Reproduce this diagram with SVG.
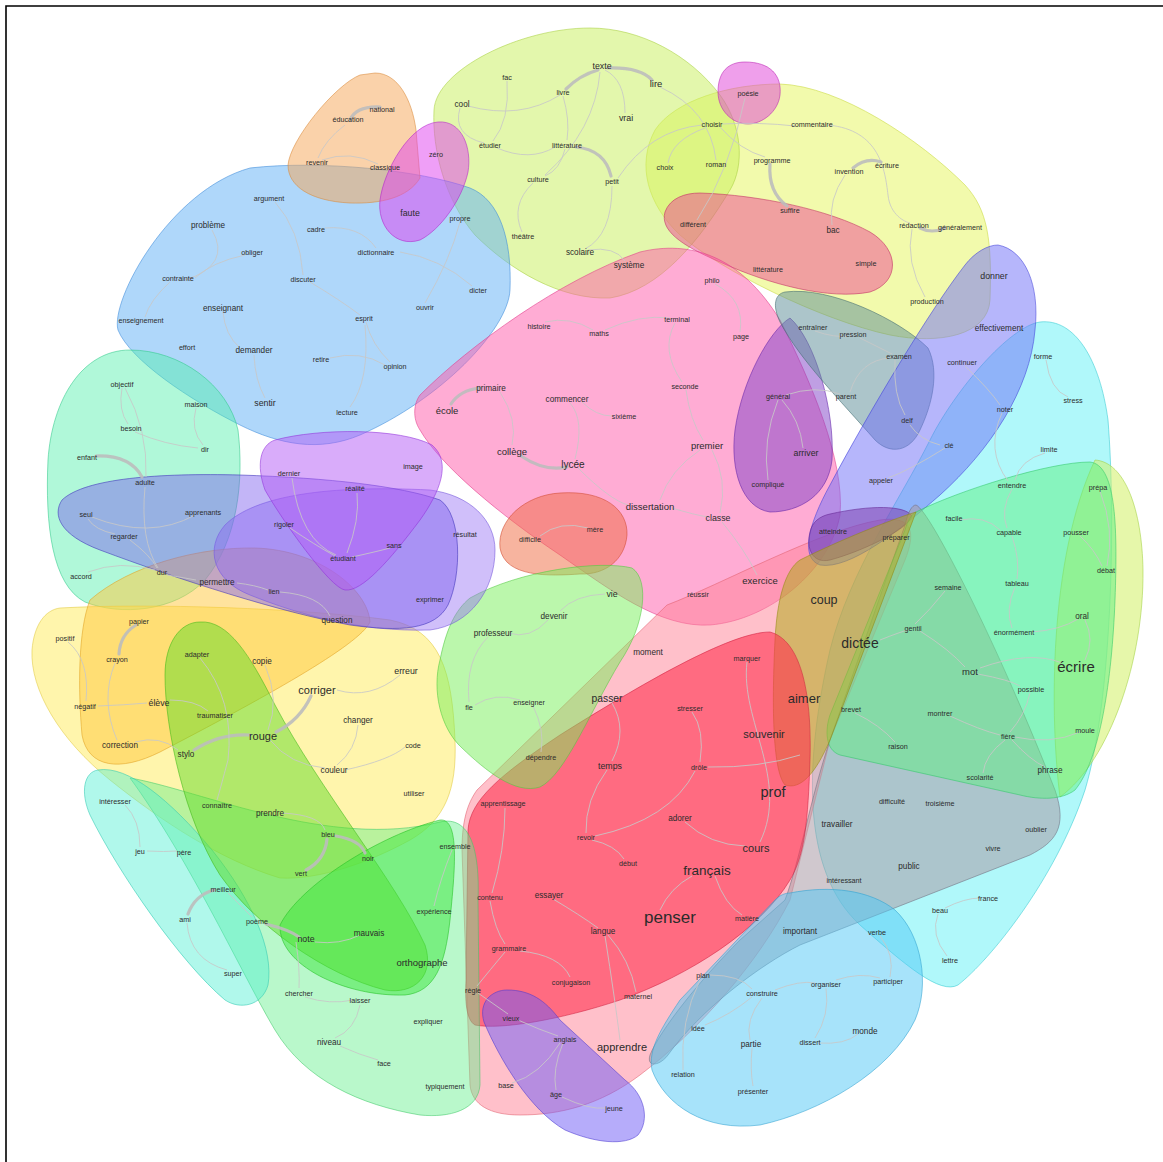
<svg xmlns="http://www.w3.org/2000/svg" width="1163" height="1162" viewBox="0 0 1163 1162">
<style>
text{font-family:"Liberation Sans",Arial,sans-serif;fill:#2b2b2b;text-anchor:middle;dominant-baseline:central}
.s{font-size:7.2px}.m{font-size:8.2px}.n{font-size:8.8px}.l{font-size:9.5px}
.hull{stroke-width:1;stroke-opacity:.55}
.e{fill:none;stroke:#c8c8c8;stroke-width:1;stroke-opacity:.85}
.E{fill:none;stroke:#bdbdbd;stroke-width:3.2;stroke-linecap:round;stroke-opacity:.9}
</style>
<rect x="0" y="0" width="1163" height="1162" fill="#ffffff"/>
<path d="M6,1162 V6 H1163" fill="none" stroke="#000" stroke-width="1.6"/>
<g id="hulls">
<path id="h-cyan" class="hull" fill="#50f0f5" fill-opacity=".45" stroke="#30c8d0" d="M1040,322 C1075,318 1100,360 1108,420 C1116,520 1112,700 1085,790 C1055,880 990,960 958,985 C940,995 905,965 860,925 C800,870 805,760 830,650 C850,570 900,500 930,440 C955,390 1010,326 1040,322 Z"/>
<path id="h-limeR" class="hull" fill="#d2f064" fill-opacity=".55" stroke="#a0d040" d="M1095,460 C1125,462 1142,510 1143,570 C1144,660 1110,760 1060,797 C1050,720 1048,560 1095,460 Z"/>
<path id="h-yellowR" class="hull" fill="#e6f55a" fill-opacity=".5" stroke="#c8d840" d="M780,84 C840,86 920,140 965,185 C988,210 992,240 990,300 C988,335 940,345 890,335 C820,320 720,270 680,235 C648,205 636,165 655,130 C675,100 730,84 780,84 Z"/>
<path id="h-lime" class="hull" fill="#c8f05a" fill-opacity=".5" stroke="#a8d040" d="M590,28 C640,28 690,55 720,95 C742,125 745,165 730,190 C700,240 660,290 610,298 C560,300 510,270 475,235 C445,200 432,150 434,110 C436,70 520,28 590,28 Z"/>
<path id="h-blue" class="hull" fill="#60b0f5" fill-opacity=".5" stroke="#3a88d8" d="M250,168 C320,160 420,170 470,188 C500,200 512,240 510,290 C508,330 440,400 360,435 C320,452 280,445 240,425 C190,400 130,360 118,330 C110,300 170,190 250,168 Z"/>
<path id="h-orange" class="hull" fill="#f5a555" fill-opacity=".5" stroke="#d88838" d="M375,73 C398,73 412,100 416,130 L420,178 C408,198 380,204 350,203 C310,201 288,186 288,165 C290,140 335,85 360,75 Z"/>
<path id="h-zero" class="hull" fill="#e040f0" fill-opacity=".5" stroke="#b020c8" d="M438,122 C462,120 472,148 468,172 C462,200 440,230 420,240 C395,248 377,225 380,200 C384,170 410,124 438,122 Z"/>
<path id="h-poesie" class="hull" fill="#e040d8" fill-opacity=".5" stroke="#b820b0" d="M745,62 C770,62 782,75 780,95 C778,112 762,124 748,124 C732,124 718,110 718,92 C718,72 728,62 745,62 Z"/>
<path id="h-bac" class="hull" fill="#ee4694" fill-opacity=".5" stroke="#c02860" d="M700,193 C760,195 830,210 870,232 C900,250 900,282 870,292 C830,300 770,285 720,262 C680,245 660,230 665,212 C670,198 685,193 700,193 Z"/>
<path id="h-ecole" class="hull" fill="#ff5aaa" fill-opacity=".5" stroke="#e03888" d="M420,395 C470,345 560,280 640,252 C690,240 740,255 780,320 C810,380 845,460 840,515 C830,570 770,620 710,625 C660,628 610,590 560,555 C500,515 440,465 420,430 C412,418 414,403 420,395 Z"/>
<path id="h-apprendre" class="hull" fill="#ff8296" fill-opacity=".5" stroke="#e06070" d="M667,605 C720,585 820,530 880,520 C915,515 915,535 905,560 L830,740 C815,800 800,860 790,900 C760,960 700,1030 640,1075 C600,1105 560,1115 520,1115 C490,1115 472,1105 470,1085 L462,850 C462,815 470,800 477,790 Z"/>
<path id="h-mere" class="hull" fill="#f06a40" fill-opacity=".5" stroke="#d04830" d="M560,493 C605,490 628,510 627,535 C625,560 605,575 580,574 C550,576 505,578 500,548 C497,520 525,495 560,493 Z"/>
<path id="h-arriver" class="hull" fill="#8040c8" fill-opacity=".5" stroke="#6020a8" d="M790,318 C815,340 835,410 832,460 C828,495 800,512 770,512 C742,508 730,470 735,430 C742,380 770,330 790,318 Z"/>
<path id="h-examen" class="hull" fill="#5a8c96" fill-opacity=".5" stroke="#406a70" d="M785,292 C830,286 900,320 928,348 C940,372 932,405 920,430 C910,452 890,455 875,440 C840,400 800,360 780,322 C772,305 775,294 785,292 Z"/>
<path id="h-donner" class="hull" fill="#6e6ef8" fill-opacity=".5" stroke="#4040d8" d="M998,245 C1025,250 1040,285 1035,330 C1030,390 990,450 940,495 C900,530 850,570 820,565 C800,558 808,525 830,485 C870,410 930,310 965,265 C975,252 988,245 998,245 Z"/>
<path id="h-atteindre" class="hull" fill="#8040b0" fill-opacity=".55" stroke="#602090" d="M830,514 C870,505 905,505 912,516 C908,530 860,552 830,560 C812,564 806,548 810,532 C812,522 820,516 830,514 Z"/>
<path id="h-gray" class="hull" fill="#aa9ba5" fill-opacity=".55" stroke="#707080" d="M916,505 C930,510 1000,650 1055,790 C1068,828 1055,842 1030,855 L800,945 C760,965 700,1010 668,1055 C660,1066 646,1068 650,1055 C660,1030 700,980 740,940 L785,900 C800,860 810,800 830,740 L905,525 C908,512 912,505 916,505 Z"/>
<path id="h-ecrire" class="hull" fill="#5df082" fill-opacity=".5" stroke="#30c868" d="M916,512 C960,490 1050,462 1090,462 C1115,465 1118,520 1115,600 C1112,680 1100,760 1075,790 C1062,800 1040,800 1020,795 L840,755 C825,750 825,730 830,715 L905,530 C908,520 912,514 916,512 Z"/>
<path id="h-dictee" class="hull" fill="#b4aa1e" fill-opacity=".55" stroke="#908810" d="M800,560 C840,540 890,520 916,512 L830,740 C815,775 800,790 785,785 C772,770 772,700 775,640 C777,600 785,570 800,560 Z"/>
<path id="h-penser" class="hull" fill="#ff3250" fill-opacity=".6" stroke="#d02040" d="M770,632 C800,640 812,690 810,760 C808,820 805,855 790,880 C760,930 690,975 620,1000 C560,1020 500,1030 475,1025 C466,1020 465,1000 466,980 L468,830 C470,800 500,775 560,735 C640,685 730,632 770,632 Z"/>
<path id="h-construire" class="hull" fill="#50c8f5" fill-opacity=".5" stroke="#30a0d0" d="M790,893 C830,885 870,890 895,910 C922,935 930,985 915,1020 C890,1072 820,1112 760,1125 C705,1132 665,1105 652,1070 C648,1050 660,1030 680,1000 L775,900 C780,895 785,893 790,893 Z"/>
<path id="h-jeune" class="hull" fill="#6e5af5" fill-opacity=".5" stroke="#4a38d0" d="M507,990 C530,990 545,1000 560,1020 L625,1080 C645,1095 650,1120 638,1135 C625,1146 595,1143 565,1130 C530,1110 500,1060 484,1022 C478,1002 492,990 507,990 Z"/>
<path id="h-adulte" class="hull" fill="#50f0aa" fill-opacity=".45" stroke="#30c888" d="M130,350 C180,350 228,385 238,430 C244,480 238,540 205,580 C175,612 120,616 85,602 C52,585 45,525 48,460 C52,400 82,350 130,350 Z"/>
<path id="h-corriger" class="hull" fill="#ffeb5a" fill-opacity=".5" stroke="#e0c840" d="M60,608 C150,603 300,608 390,620 C440,630 452,670 455,740 C457,790 445,820 410,840 C370,862 320,880 280,878 C220,860 160,820 110,780 C60,740 30,690 32,650 C34,625 45,610 60,608 Z"/>
<path id="h-eleve" class="hull" fill="#ffc83c" fill-opacity=".5" stroke="#e0a020" d="M90,600 C130,565 200,547 255,548 C320,550 368,590 370,622 C360,645 260,700 160,752 C120,772 88,768 82,735 C78,690 78,630 90,600 Z"/>
<path id="h-vie" class="hull" fill="#78f05a" fill-opacity=".5" stroke="#50c840" d="M470,598 C520,570 600,560 632,568 C650,580 645,625 620,662 C590,712 565,775 540,787 C515,795 485,770 462,748 C440,728 432,690 440,660 C446,630 455,610 470,598 Z"/>
<path id="h-ensemble" class="hull" fill="#64f08c" fill-opacity=".45" stroke="#40c868" d="M130,778 C200,790 330,850 440,822 C470,815 480,850 478,900 L480,1085 C478,1110 450,1118 420,1115 C360,1105 305,1080 275,1030 C245,980 190,860 130,778 Z"/>
<path id="h-jeu" class="hull" fill="#50f0d2" fill-opacity=".45" stroke="#30c8b0" d="M98,770 C128,765 170,800 212,850 C252,900 274,950 268,985 C262,1006 240,1010 225,1000 C180,962 118,872 90,815 C80,792 84,772 98,770 Z"/>
<path id="h-rouge" class="hull" fill="#64dc28" fill-opacity=".5" stroke="#40b818" d="M200,622 C228,620 250,655 275,705 C320,790 395,880 425,945 C435,975 415,995 385,990 C325,975 255,925 220,875 C185,820 165,730 165,675 C165,643 180,622 200,622 Z"/>
<path id="h-ortho" class="hull" fill="#3ce63c" fill-opacity=".5" stroke="#20c020" d="M280,925 C300,885 380,835 440,820 C460,818 455,870 450,920 C445,965 435,992 405,995 C345,997 278,965 280,925 Z"/>
<path id="h-resultat" class="hull" fill="#9670f5" fill-opacity=".45" stroke="#7050d8" d="M225,525 C255,495 330,485 430,490 C470,495 495,520 495,550 C495,590 470,625 430,630 C360,632 300,615 250,595 C212,580 205,548 225,525 Z"/>
<path id="h-seul" class="hull" fill="#7a5aee" fill-opacity=".45" stroke="#3a30b8" d="M62,500 C85,478 160,473 240,475 C330,478 400,486 440,500 C462,515 462,575 448,605 C435,630 400,632 350,625 C280,612 180,580 100,550 C60,535 52,515 62,500 Z"/>
<path id="h-image" class="hull" fill="#b45af5" fill-opacity=".5" stroke="#9030d8" d="M275,440 C320,428 400,428 432,445 C452,462 440,492 420,520 C390,560 362,592 345,590 C330,588 282,520 265,490 C256,465 260,445 275,440 Z"/>
</g>
<g id="edges">
<path class="E" d="M350,120 Q356,106 380,107"/>
<path class="e" d="M345,125 Q325,140 318,158"/>
<path class="e" d="M322,160 Q350,150 378,164"/>
<path class="e" d="M275,202 Q300,230 303,275"/>
<path class="e" d="M325,228 Q360,225 376,248"/>
<path class="e" d="M212,230 Q232,265 185,280"/>
<path class="e" d="M245,255 Q212,262 195,278"/>
<path class="e" d="M170,282 Q150,300 145,317"/>
<path class="e" d="M223,312 Q225,335 240,348"/>
<path class="e" d="M254,355 Q255,380 265,398"/>
<path class="e" d="M310,282 Q340,300 360,315"/>
<path class="e" d="M366,322 Q372,345 390,362"/>
<path class="e" d="M330,358 Q360,350 385,365"/>
<path class="e" d="M400,252 Q440,258 472,286"/>
<path class="e" d="M425,303 Q450,260 460,222"/>
<path class="e" d="M350,407 Q370,380 365,325"/>
<path class="E" d="M598,70 Q580,75 566,89"/>
<path class="E" d="M608,68 Q640,67 652,80"/>
<path class="e" d="M605,70 Q625,80 625,113"/>
<path class="e" d="M600,72 Q595,130 545,175"/>
<path class="e" d="M560,95 Q520,120 468,106"/>
<path class="e" d="M563,96 Q570,120 567,140"/>
<path class="e" d="M507,81 Q510,120 493,141"/>
<path class="e" d="M460,108 Q452,135 484,143"/>
<path class="e" d="M497,148 Q530,162 555,147"/>
<path class="E" d="M576,147 Q605,150 611,176"/>
<path class="e" d="M565,149 Q560,170 545,176"/>
<path class="e" d="M533,183 Q510,205 522,232"/>
<path class="e" d="M612,186 Q612,235 585,249"/>
<path class="e" d="M588,250 Q615,246 625,261"/>
<path class="e" d="M618,178 Q650,130 702,125"/>
<path class="e" d="M660,87 Q710,110 716,160"/>
<path class="e" d="M705,128 Q672,140 668,163"/>
<path class="e" d="M720,127 Q740,150 765,157"/>
<path class="e" d="M722,124 Q760,122 795,126"/>
<path class="e" d="M745,98 Q730,170 697,220"/>
<path class="E" d="M770,164 Q768,192 787,206"/>
<path class="e" d="M828,125 C880,130 885,170 888,195 C890,215 905,222 910,223"/>
<path class="E" d="M920,228 Q932,234 945,228"/>
<path class="E" d="M853,168 Q866,157 881,162"/>
<path class="e" d="M845,175 Q828,200 832,225"/>
<path class="e" d="M912,229 Q905,262 925,297"/>
<path class="e" d="M545,322 Q570,316 593,330"/>
<path class="e" d="M605,330 Q640,314 670,318"/>
<path class="e" d="M675,323 Q660,350 682,382"/>
<path class="e" d="M686,390 Q690,420 703,440"/>
<path class="e" d="M740,332 Q745,300 715,284"/>
<path class="E" d="M480,388 Q460,390 451,404"/>
<path class="e" d="M500,392 Q518,420 512,445"/>
<path class="E" d="M521,456 Q545,472 567,467"/>
<path class="e" d="M575,459 Q585,420 570,403"/>
<path class="e" d="M582,402 Q596,416 612,416"/>
<path class="e" d="M700,450 Q670,470 660,500"/>
<path class="e" d="M672,508 Q695,515 708,517"/>
<path class="e" d="M712,450 Q728,480 720,513"/>
<path class="e" d="M722,522 Q745,550 757,575"/>
<path class="e" d="M540,536 Q560,520 588,528"/>
<path class="e" d="M578,468 Q610,500 628,505"/>
<path class="e" d="M778,400 Q762,440 768,480"/>
<path class="e" d="M782,400 Q800,420 803,448"/>
<path class="e" d="M786,395 Q815,385 840,394"/>
<path class="e" d="M815,331 Q835,338 848,336"/>
<path class="e" d="M860,338 Q880,348 892,354"/>
<path class="e" d="M895,360 Q893,395 905,415"/>
<path class="e" d="M890,358 Q860,360 850,392"/>
<path class="e" d="M965,366 Q990,390 1000,405"/>
<path class="e" d="M940,445 Q920,440 910,425"/>
<path class="e" d="M945,448 Q910,470 888,478"/>
<path class="e" d="M1046,360 Q1050,390 1068,397"/>
<path class="e" d="M1002,413 Q985,450 1008,481"/>
<path class="e" d="M1045,453 Q1020,460 1015,480"/>
<path class="e" d="M1012,489 Q1000,510 1007,528"/>
<path class="e" d="M960,520 Q985,515 1000,530"/>
<path class="e" d="M1100,491 Q1115,530 1107,566"/>
<path class="e" d="M1080,536 Q1095,550 1102,566"/>
<path class="e" d="M1012,536 Q1020,560 1017,579"/>
<path class="e" d="M945,591 Q930,610 915,624"/>
<path class="e" d="M1015,587 Q1005,610 1012,628"/>
<path class="e" d="M1032,632 Q1060,630 1078,619"/>
<path class="e" d="M880,640 Q900,632 908,630"/>
<path class="e" d="M920,631 Q950,650 965,667"/>
<path class="e" d="M980,668 Q1030,650 1062,663"/>
<path class="e" d="M978,674 Q1010,680 1020,686"/>
<path class="e" d="M1030,693 Q1025,715 1010,732"/>
<path class="e" d="M1012,740 Q1030,760 1045,767"/>
<path class="e" d="M1015,737 Q1050,745 1080,732"/>
<path class="e" d="M855,713 Q880,725 895,742"/>
<path class="e" d="M950,716 Q980,730 1000,735"/>
<path class="e" d="M1005,740 Q985,755 983,773"/>
<path class="e" d="M1085,660 Q1095,640 1085,620"/>
<path class="e" d="M938,914 Q930,935 947,956"/>
<path class="e" d="M945,908 Q965,898 980,898"/>
<path class="e" d="M836,980 Q860,972 880,978"/>
<path class="e" d="M826,988 Q830,1015 815,1038"/>
<path class="e" d="M818,1043 Q845,1045 858,1034"/>
<path class="e" d="M775,990 Q800,980 815,983"/>
<path class="e" d="M710,975 Q740,975 752,989"/>
<path class="e" d="M700,980 Q680,1020 683,1070"/>
<path class="e" d="M762,998 Q745,1020 750,1040"/>
<path class="e" d="M752,1048 Q750,1070 753,1086"/>
<path class="e" d="M880,936 Q895,955 890,977"/>
<path class="e" d="M705,1025 Q730,1015 752,997"/>
<path class="e" d="M660,910 Q670,888 692,876"/>
<path class="e" d="M715,876 Q725,905 742,915"/>
<path class="e" d="M490,901 Q495,930 505,944"/>
<path class="e" d="M553,899 Q580,915 598,928"/>
<path class="e" d="M608,935 Q630,960 636,992"/>
<path class="e" d="M520,951 Q560,955 570,977"/>
<path class="e" d="M505,952 Q490,970 477,986"/>
<path class="e" d="M478,993 Q495,1005 508,1014"/>
<path class="e" d="M518,1020 Q540,1030 558,1036"/>
<path class="e" d="M560,1043 Q540,1075 512,1083"/>
<path class="e" d="M563,1043 Q552,1070 556,1090"/>
<path class="e" d="M562,1097 Q590,1110 605,1108"/>
<path class="e" d="M605,936 Q615,1000 620,1040"/>
<path class="e" d="M612,703 Q628,730 612,761"/>
<path class="e" d="M607,770 Q585,800 586,833"/>
<path class="e" d="M592,840 Q615,845 624,859"/>
<path class="e" d="M695,771 Q670,820 595,836"/>
<path class="e" d="M692,712 Q705,730 700,762"/>
<path class="e" d="M708,767 Q760,768 800,755"/>
<path class="e" d="M747,662 C740,720 790,780 760,842"/>
<path class="e" d="M685,822 Q710,845 745,846"/>
<path class="e" d="M508,633 Q530,640 548,620"/>
<path class="e" d="M605,594 Q575,595 560,611"/>
<path class="e" d="M488,637 Q465,660 469,702"/>
<path class="e" d="M475,705 Q495,692 520,700"/>
<path class="e" d="M533,706 Q545,730 541,752"/>
<path class="e" d="M505,808 Q505,850 492,893"/>
<path class="e" d="M452,850 Q440,880 434,906"/>
<path class="e" d="M122,388 Q118,410 128,424"/>
<path class="e" d="M125,388 Q148,430 146,477"/>
<path class="e" d="M196,408 Q190,430 203,445"/>
<path class="e" d="M135,432 Q165,445 198,448"/>
<path class="E" d="M96,456 Q130,455 142,477"/>
<path class="e" d="M145,487 Q140,540 158,568"/>
<path class="e" d="M88,519 Q95,530 115,534"/>
<path class="e" d="M92,517 Q150,540 195,515"/>
<path class="e" d="M130,540 Q150,555 157,568"/>
<path class="e" d="M88,572 Q120,560 155,570"/>
<path class="e" d="M292,478 Q300,540 336,555"/>
<path class="e" d="M357,493 Q360,520 347,553"/>
<path class="e" d="M290,528 Q315,545 335,556"/>
<path class="e" d="M352,557 Q375,552 390,548"/>
<path class="e" d="M237,583 Q255,585 268,590"/>
<path class="e" d="M280,592 Q320,595 330,616"/>
<path class="e" d="M167,575 Q185,578 196,580"/>
<path class="E" d="M136,625 Q120,635 119,654"/>
<path class="e" d="M68,642 Q90,660 86,701"/>
<path class="e" d="M115,663 Q100,700 117,740"/>
<path class="e" d="M98,706 Q125,705 147,703"/>
<path class="e" d="M170,700 Q195,700 208,711"/>
<path class="e" d="M135,742 Q160,735 178,750"/>
<path class="E" d="M194,750 Q220,733 250,735"/>
<path class="E" d="M276,732 Q300,720 311,696"/>
<path class="e" d="M270,740 Q290,765 325,768"/>
<path class="e" d="M337,690 Q370,700 400,675"/>
<path class="e" d="M358,725 Q356,750 337,765"/>
<path class="e" d="M345,770 Q390,760 405,747"/>
<path class="e" d="M265,665 Q280,700 268,730"/>
<path class="e" d="M200,658 Q235,700 228,760 Q220,790 217,800"/>
<path class="e" d="M282,813 Q320,815 325,830"/>
<path class="E" d="M336,836 Q360,840 365,853"/>
<path class="E" d="M327,839 Q325,860 306,870"/>
<path class="e" d="M125,805 Q140,820 140,847"/>
<path class="e" d="M147,851 Q165,852 177,851"/>
<path class="E" d="M214,890 Q195,895 188,914"/>
<path class="e" d="M187,923 Q190,960 227,970"/>
<path class="e" d="M252,917 Q235,900 228,893"/>
<path class="E" d="M266,924 Q290,930 299,937"/>
<path class="e" d="M296,942 Q300,970 299,988"/>
<path class="e" d="M305,997 Q330,1005 353,1000"/>
<path class="e" d="M360,1005 Q355,1030 335,1038"/>
<path class="e" d="M340,1046 Q360,1055 378,1060"/>
<path class="e" d="M315,942 Q340,945 360,935"/>
</g>
<g id="nodes">
<g id="w001"><text class="s" x="382" y="109">national</text></g>
<g id="w002"><text class="s" x="348" y="119">éducation</text></g>
<g id="w003"><text class="s" x="317" y="162">revenir</text></g>
<g id="w004"><text class="s" x="385" y="167">classique</text></g>
<g id="w005"><text class="s" x="436" y="154">zéro</text></g>
<g id="w006"><text class="n" x="410" y="213">faute</text></g>
<g id="w007"><text class="s" x="460" y="218">propre</text></g>
<g id="w008"><text class="s" x="269" y="198">argument</text></g>
<g id="w009"><text class="m" x="208" y="225">problème</text></g>
<g id="w010"><text class="s" x="316" y="229">cadre</text></g>
<g id="w011"><text class="s" x="252" y="252">obliger</text></g>
<g id="w012"><text class="s" x="376" y="252">dictionnaire</text></g>
<g id="w013"><text class="s" x="178" y="278">contrainte</text></g>
<g id="w014"><text class="s" x="303" y="279">discuter</text></g>
<g id="w015"><text class="s" x="478" y="290">dicter</text></g>
<g id="w016"><text class="s" x="425" y="307">ouvrir</text></g>
<g id="w017"><text class="m" x="223" y="308">enseignant</text></g>
<g id="w018"><text class="s" x="364" y="318">esprit</text></g>
<g id="w019"><text class="s" x="141" y="320">enseignement</text></g>
<g id="w020"><text class="s" x="187" y="347">effort</text></g>
<g id="w021"><text class="m" x="254" y="350">demander</text></g>
<g id="w022"><text class="s" x="321" y="359">retire</text></g>
<g id="w023"><text class="s" x="395" y="366">opinion</text></g>
<g id="w024"><text class="n" x="265" y="403">sentir</text></g>
<g id="w025"><text class="s" x="347" y="412">lecture</text></g>
<g id="w026"><text class="s" x="507" y="77">fac</text></g>
<g id="w027"><text class="n" x="602" y="66">texte</text></g>
<g id="w028"><text class="s" x="563" y="92">livre</text></g>
<g id="w029"><text class="l" x="656" y="83">lire</text></g>
<g id="w030"><text class="m" x="462" y="104">cool</text></g>
<g id="w031"><text class="n" x="626" y="118">vrai</text></g>
<g id="w032"><text class="s" x="490" y="145">étudier</text></g>
<g id="w033"><text class="s" x="567" y="145">littérature</text></g>
<g id="w034"><text class="s" x="538" y="179">culture</text></g>
<g id="w035"><text class="s" x="612" y="181">petit</text></g>
<g id="w036"><text class="s" x="523" y="236">théâtre</text></g>
<g id="w037"><text class="m" x="580" y="252">scolaire</text></g>
<g id="w038"><text class="m" x="629" y="265">système</text></g>
<g id="w039"><text class="s" x="748" y="93">poésie</text></g>
<g id="w040"><text class="s" x="712" y="124">choisir</text></g>
<g id="w041"><text class="s" x="812" y="124">commentaire</text></g>
<g id="w042"><text class="s" x="665" y="167">choix</text></g>
<g id="w043"><text class="s" x="716" y="164">roman</text></g>
<g id="w044"><text class="s" x="772" y="160">programme</text></g>
<g id="w045"><text class="s" x="849" y="171">invention</text></g>
<g id="w046"><text class="s" x="887" y="165">écriture</text></g>
<g id="w047"><text class="s" x="790" y="210">suffire</text></g>
<g id="w048"><text class="s" x="693" y="224">différent</text></g>
<g id="w049"><text class="m" x="833" y="230">bac</text></g>
<g id="w050"><text class="s" x="914" y="225">rédaction</text></g>
<g id="w051"><text class="s" x="960" y="227">généralement</text></g>
<g id="w052"><text class="s" x="866" y="263">simple</text></g>
<g id="w053"><text class="s" x="768" y="269">littérature</text></g>
<g id="w054"><text class="s" x="712" y="280">philo</text></g>
<g id="w055"><text class="s" x="927" y="301">production</text></g>
<g id="w056"><text class="n" x="994" y="276">donner</text></g>
<g id="w057"><text class="s" x="539" y="326">histoire</text></g>
<g id="w058"><text class="s" x="599" y="333">maths</text></g>
<g id="w059"><text class="s" x="677" y="319">terminal</text></g>
<g id="w060"><text class="s" x="741" y="336">page</text></g>
<g id="w061"><text class="s" x="813" y="327">entraîner</text></g>
<g id="w062"><text class="s" x="853" y="334">pression</text></g>
<g id="w063"><text class="m" x="999" y="328">effectivement</text></g>
<g id="w064"><text class="s" x="899" y="356">examen</text></g>
<g id="w065"><text class="s" x="962" y="362">continuer</text></g>
<g id="w066"><text class="s" x="1043" y="356">forme</text></g>
<g id="w067"><text class="m" x="491" y="388">primaire</text></g>
<g id="w068"><text class="m" x="567" y="399">commencer</text></g>
<g id="w069"><text class="s" x="685" y="386">seconde</text></g>
<g id="w070"><text class="s" x="624" y="416">sixième</text></g>
<g id="w071"><text class="l" x="447" y="410">école</text></g>
<g id="w072"><text class="s" x="778" y="396">général</text></g>
<g id="w073"><text class="s" x="846" y="396">parent</text></g>
<g id="w074"><text class="s" x="1073" y="400">stress</text></g>
<g id="w075"><text class="s" x="1005" y="409">noter</text></g>
<g id="w076"><text class="s" x="907" y="420">delf</text></g>
<g id="w077"><text class="l" x="512" y="451">collège</text></g>
<g id="w078"><text style="font-size:10px" x="573" y="464">lycée</text></g>
<g id="w079"><text class="l" x="707" y="445">premier</text></g>
<g id="w080"><text class="n" x="806" y="453">arriver</text></g>
<g id="w081"><text class="s" x="949" y="445">clé</text></g>
<g id="w082"><text class="s" x="1049" y="449">limite</text></g>
<g id="w083"><text class="s" x="768" y="484">compliqué</text></g>
<g id="w084"><text class="s" x="881" y="480">appeler</text></g>
<g id="w085"><text class="s" x="1012" y="485">entendre</text></g>
<g id="w086"><text class="s" x="1098" y="487">prépa</text></g>
<g id="w087"><text class="l" x="650" y="506">dissertation</text></g>
<g id="w088"><text class="n" x="718" y="518">classe</text></g>
<g id="w089"><text class="s" x="833" y="531">atteindre</text></g>
<g id="w090"><text class="s" x="896" y="537">préparer</text></g>
<g id="w091"><text class="s" x="954" y="518">facile</text></g>
<g id="w092"><text class="s" x="1009" y="532">capable</text></g>
<g id="w093"><text class="s" x="1076" y="532">pousser</text></g>
<g id="w094"><text class="s" x="530" y="539">difficile</text></g>
<g id="w095"><text class="s" x="595" y="529">mère</text></g>
<g id="w096"><text class="s" x="1106" y="570">débat</text></g>
<g id="w097"><text class="l" x="760" y="580">exercice</text></g>
<g id="w098"><text class="s" x="698" y="594">réussir</text></g>
<g id="w099"><text class="s" x="1017" y="583">tableau</text></g>
<g id="w100"><text class="s" x="948" y="587">semaine</text></g>
<g id="w101"><text style="font-size:12.5px" x="824" y="600">coup</text></g>
<g id="w102"><text class="m" x="1082" y="616">oral</text></g>
<g id="w103"><text class="s" x="913" y="628">gentil</text></g>
<g id="w104"><text class="s" x="1014" y="632">énormément</text></g>
<g id="w105"><text style="font-size:14px" x="860" y="643">dictée</text></g>
<g id="w106"><text style="font-size:15px" x="1076" y="666">écrire</text></g>
<g id="w107"><text class="l" x="970" y="671">mot</text></g>
<g id="w108"><text class="s" x="1031" y="689">possible</text></g>
<g id="w109"><text style="font-size:13px" x="804" y="698">aimer</text></g>
<g id="w110"><text class="s" x="851" y="709">brevet</text></g>
<g id="w111"><text class="s" x="940" y="713">montrer</text></g>
<g id="w112"><text class="s" x="1085" y="730">moule</text></g>
<g id="w113"><text class="s" x="1008" y="736">fière</text></g>
<g id="w114"><text class="s" x="898" y="746">raison</text></g>
<g id="w115"><text class="m" x="1050" y="770">phrase</text></g>
<g id="w116"><text class="s" x="980" y="777">scolarité</text></g>
<g id="w117"><text class="s" x="892" y="801">difficulté</text></g>
<g id="w118"><text class="s" x="940" y="803">troisième</text></g>
<g id="w119"><text class="m" x="837" y="824">travailler</text></g>
<g id="w120"><text class="s" x="1036" y="829">oublier</text></g>
<g id="w121"><text class="s" x="993" y="848">vivre</text></g>
<g id="w122"><text class="m" x="909" y="866">public</text></g>
<g id="w123"><text class="s" x="844" y="880">intéressant</text></g>
<g id="w124"><text class="s" x="988" y="898">france</text></g>
<g id="w125"><text class="s" x="940" y="910">beau</text></g>
<g id="w126"><text class="s" x="877" y="932">verbe</text></g>
<g id="w127"><text class="m" x="800" y="931">important</text></g>
<g id="w128"><text class="s" x="950" y="960">lettre</text></g>
<g id="w129"><text class="s" x="826" y="984">organiser</text></g>
<g id="w130"><text class="s" x="888" y="981">participer</text></g>
<g id="w131"><text class="s" x="762" y="993">construire</text></g>
<g id="w132"><text class="s" x="703" y="975">plan</text></g>
<g id="w133"><text class="m" x="865" y="1031">monde</text></g>
<g id="w134"><text class="s" x="810" y="1042">dissert</text></g>
<g id="w135"><text class="s" x="698" y="1028">idée</text></g>
<g id="w136"><text class="m" x="751" y="1044">partie</text></g>
<g id="w137"><text class="s" x="683" y="1074">relation</text></g>
<g id="w138"><text class="s" x="753" y="1091">présenter</text></g>
<g id="w139"><text class="s" x="122" y="384">objectif</text></g>
<g id="w140"><text class="s" x="196" y="404">maison</text></g>
<g id="w141"><text class="s" x="131" y="428">besoin</text></g>
<g id="w142"><text class="s" x="205" y="449">dir</text></g>
<g id="w143"><text class="s" x="87" y="457">enfant</text></g>
<g id="w144"><text class="s" x="145" y="482">adulte</text></g>
<g id="w145"><text class="s" x="289" y="473">dernier</text></g>
<g id="w146"><text class="s" x="355" y="488">réalité</text></g>
<g id="w147"><text class="s" x="413" y="466">image</text></g>
<g id="w148"><text class="s" x="86" y="514">seul</text></g>
<g id="w149"><text class="s" x="203" y="512">apprenants</text></g>
<g id="w150"><text class="s" x="124" y="536">regarder</text></g>
<g id="w151"><text class="s" x="284" y="524">rigoler</text></g>
<g id="w152"><text class="s" x="343" y="558">étudiant</text></g>
<g id="w153"><text class="s" x="394" y="545">sans</text></g>
<g id="w154"><text class="s" x="465" y="534">résultat</text></g>
<g id="w155"><text class="s" x="81" y="576">accord</text></g>
<g id="w156"><text class="s" x="162" y="572">dur</text></g>
<g id="w157"><text class="m" x="217" y="582">permettre</text></g>
<g id="w158"><text class="s" x="274" y="591">lien</text></g>
<g id="w159"><text class="m" x="337" y="620">question</text></g>
<g id="w160"><text class="s" x="430" y="599">exprimer</text></g>
<g id="w161"><text class="s" x="139" y="621">papier</text></g>
<g id="w162"><text class="s" x="65" y="638">positif</text></g>
<g id="w163"><text class="s" x="117" y="659">crayon</text></g>
<g id="w164"><text class="s" x="197" y="654">adapter</text></g>
<g id="w165"><text class="m" x="262" y="661">copie</text></g>
<g id="w166"><text style="font-size:11px" x="317" y="690">corriger</text></g>
<g id="w167"><text class="n" x="406" y="671">erreur</text></g>
<g id="w168"><text class="s" x="85" y="706">négatif</text></g>
<g id="w169"><text class="n" x="159" y="703">élève</text></g>
<g id="w170"><text class="s" x="215" y="715">traumatiser</text></g>
<g id="w171"><text class="m" x="358" y="720">changer</text></g>
<g id="w172"><text class="m" x="120" y="745">correction</text></g>
<g id="w173"><text class="m" x="186" y="754">stylo</text></g>
<g id="w174"><text style="font-size:11px" x="263" y="736">rouge</text></g>
<g id="w175"><text class="s" x="413" y="745">code</text></g>
<g id="w176"><text class="m" x="334" y="770">couleur</text></g>
<g id="w177"><text class="s" x="414" y="793">utiliser</text></g>
<g id="w178"><text class="s" x="115" y="801">intéresser</text></g>
<g id="w179"><text class="s" x="217" y="805">connaître</text></g>
<g id="w180"><text class="m" x="270" y="813">prendre</text></g>
<g id="w181"><text class="s" x="328" y="834">bleu</text></g>
<g id="w182"><text class="s" x="368" y="858">noir</text></g>
<g id="w183"><text class="s" x="140" y="851">jeu</text></g>
<g id="w184"><text class="s" x="184" y="852">père</text></g>
<g id="w185"><text class="s" x="301" y="873">vert</text></g>
<g id="w186"><text class="s" x="223" y="889">meilleur</text></g>
<g id="w187"><text class="s" x="185" y="919">ami</text></g>
<g id="w188"><text class="s" x="257" y="921">poème</text></g>
<g id="w189"><text class="s" x="233" y="973">super</text></g>
<g id="w190"><text class="n" x="306" y="939">note</text></g>
<g id="w191"><text class="m" x="369" y="933">mauvais</text></g>
<g id="w192"><text class="l" x="422" y="962">orthographe</text></g>
<g id="w193"><text class="s" x="299" y="993">chercher</text></g>
<g id="w194"><text class="s" x="360" y="1000">laisser</text></g>
<g id="w195"><text class="s" x="428" y="1021">expliquer</text></g>
<g id="w196"><text class="m" x="329" y="1042">niveau</text></g>
<g id="w197"><text class="s" x="384" y="1063">face</text></g>
<g id="w198"><text class="s" x="445" y="1086">typiquement</text></g>
<g id="w199"><text class="n" x="612" y="594">vie</text></g>
<g id="w200"><text class="m" x="554" y="616">devenir</text></g>
<g id="w201"><text class="m" x="493" y="633">professeur</text></g>
<g id="w202"><text class="m" x="648" y="652">moment</text></g>
<g id="w203"><text class="s" x="747" y="658">marquer</text></g>
<g id="w204"><text class="s" x="469" y="707">fle</text></g>
<g id="w205"><text class="s" x="529" y="702">enseigner</text></g>
<g id="w206"><text style="font-size:10.3px" x="607" y="698">passer</text></g>
<g id="w207"><text class="s" x="690" y="708">stresser</text></g>
<g id="w208"><text style="font-size:11px" x="764" y="734">souvenir</text></g>
<g id="w209"><text class="s" x="541" y="757">dépendre</text></g>
<g id="w210"><text class="n" x="610" y="766">temps</text></g>
<g id="w211"><text class="s" x="699" y="767">drôle</text></g>
<g id="w212"><text style="font-size:14.5px" x="773" y="792">prof</text></g>
<g id="w213"><text class="s" x="503" y="803">apprentissage</text></g>
<g id="w214"><text class="m" x="680" y="818">adorer</text></g>
<g id="w215"><text class="s" x="455" y="846">ensemble</text></g>
<g id="w216"><text class="s" x="586" y="837">revoir</text></g>
<g id="w217"><text style="font-size:11px" x="756" y="848">cours</text></g>
<g id="w218"><text class="s" x="628" y="863">début</text></g>
<g id="w219"><text style="font-size:13.5px" x="707" y="870">français</text></g>
<g id="w220"><text class="s" x="490" y="897">contenu</text></g>
<g id="w221"><text class="m" x="549" y="895">essayer</text></g>
<g id="w222"><text class="s" x="434" y="911">expérience</text></g>
<g id="w223"><text style="font-size:17px" x="670" y="917">penser</text></g>
<g id="w224"><text class="s" x="747" y="918">matière</text></g>
<g id="w225"><text class="m" x="603" y="931">langue</text></g>
<g id="w226"><text class="s" x="509" y="948">grammaire</text></g>
<g id="w227"><text class="s" x="571" y="982">conjugaison</text></g>
<g id="w228"><text class="s" x="638" y="996">maternel</text></g>
<g id="w229"><text class="s" x="473" y="990">règle</text></g>
<g id="w230"><text class="s" x="511" y="1018">vieux</text></g>
<g id="w231"><text class="s" x="565" y="1039">anglais</text></g>
<g id="w232"><text style="font-size:11px" x="622" y="1047">apprendre</text></g>
<g id="w233"><text class="s" x="506" y="1085">base</text></g>
<g id="w234"><text class="s" x="556" y="1094">âge</text></g>
<g id="w235"><text class="s" x="614" y="1108">jeune</text></g>
</g>
</svg>
